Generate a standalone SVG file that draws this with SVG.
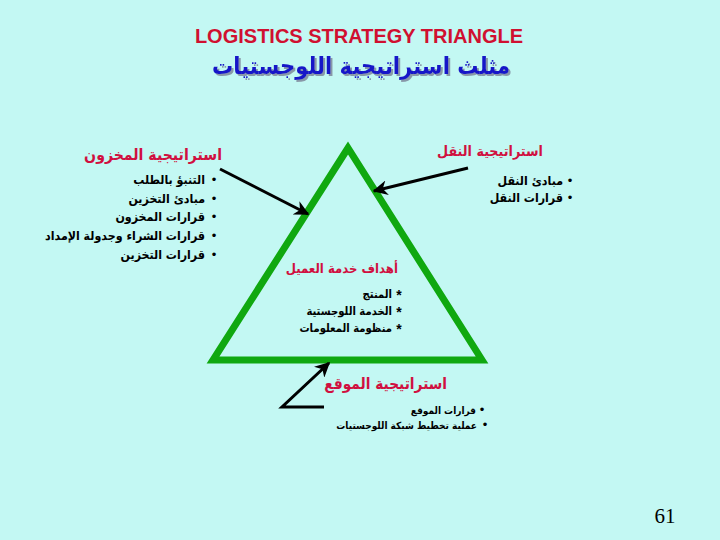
<svg xmlns="http://www.w3.org/2000/svg" width="720" height="540" viewBox="0 0 720 540">
<defs>
<style>
.ar{font-family:"DejaVu Sans Condensed","DejaVu Sans",sans-serif;font-weight:bold;text-anchor:end}
.hd{fill:#D01040}
.it{fill:#000}
.bul{font-family:"Liberation Sans",sans-serif;font-size:13px;fill:#000;text-anchor:middle}
.ast{font-family:"Liberation Sans",sans-serif;font-size:14px;font-weight:bold;fill:#000;text-anchor:middle}
.arw{stroke:#000;stroke-width:3;fill:none}
</style>
<filter id="sh" x="-5%" y="-20%" width="110%" height="150%">
<feDropShadow dx="2" dy="2" stdDeviation="0.4" flood-color="#8898A8" flood-opacity="1"/>
</filter>
<marker id="ah" viewBox="0 0 10 10" refX="9" refY="5" markerWidth="5" markerHeight="5" orient="auto" markerUnits="strokeWidth">
<path d="M0,0 L10,5 L0,10 L3,5 Z" fill="#000"/>
</marker>
</defs>
<rect width="720" height="540" fill="#C3F8F3"/>
<g id="title">
<text x="359" y="43" font-family="Liberation Sans, sans-serif" font-weight="bold" font-size="20" fill="#D01030" text-anchor="middle">LOGISTICS STRATEGY TRIANGLE</text>
<text class="ar" x="510" y="74" font-size="23.5" fill="#1818C8" filter="url(#sh)">مثلث استراتيجية اللوجستيات</text>
</g>
<g id="triangle">
<path d="M348,148 L213,360 L482,360 Z" fill="none" stroke="#10A810" stroke-width="7" stroke-linejoin="miter"/>
</g>
<g id="connectors">
<path class="arw" d="M220,169 L308,214" marker-end="url(#ah)"/>
<path class="arw" d="M468,168 L374,191" marker-end="url(#ah)"/>
<path class="arw" d="M324,407 L282,407 L329,363" marker-end="url(#ah)"/>
</g>
<g id="inventory">
<text class="ar hd" x="222" y="160" font-size="15.7">استراتيجية المخزون</text>
<text class="bul" x="214" y="184">•</text><text class="ar it" x="205" y="184" font-size="12.3">التنبؤ بالطلب</text>
<text class="bul" x="214" y="203">•</text><text class="ar it" x="205" y="203" font-size="12.3">مبادئ التخزين</text>
<text class="bul" x="214" y="221">•</text><text class="ar it" x="205" y="221" font-size="12.3">قرارات المخزون</text>
<text class="bul" x="214" y="240">•</text><text class="ar it" x="205" y="240" font-size="12.3">قرارات الشراء وجدولة الإمداد</text>
<text class="bul" x="214" y="259">•</text><text class="ar it" x="205" y="259" font-size="12.3">قرارات التخزين</text>
</g>
<g id="transport">
<text class="ar hd" x="543" y="156" font-size="14.2">استراتيجية النقل</text>
<text class="bul" x="570" y="185">•</text><text class="ar it" x="563" y="185" font-size="12.3">مبادئ النقل</text>
<text class="bul" x="570" y="202">•</text><text class="ar it" x="563" y="202" font-size="12.3">قرارات النقل</text>
</g>
<g id="customer">
<text class="ar hd" x="398" y="273" font-size="13">أهداف خدمة العميل</text>
<text class="ast" x="399" y="300">*</text><text class="ar it" x="392" y="298" font-size="11.2">المنتج</text>
<text class="ast" x="399" y="317">*</text><text class="ar it" x="392" y="315" font-size="11.2">الخدمة اللوجستية</text>
<text class="ast" x="399" y="334">*</text><text class="ar it" x="392" y="332" font-size="11.2">منظومة المعلومات</text>
</g>
<g id="location">
<text class="ar hd" x="447" y="389" font-size="15.3">استراتيجية الموقع</text>
<text class="bul" x="482" y="414">•</text><text class="ar it" x="476" y="414" font-size="10">قرارات الموقع</text>
<text class="bul" x="485" y="429">•</text><text class="ar it" x="477" y="429" font-size="10">عملية تخطيط شبكة اللوجستيات</text>
</g>
<g id="page">
<text x="665" y="523" font-family="Liberation Serif, serif" font-size="21" fill="#000" text-anchor="middle">61</text>
</g>
</svg>
